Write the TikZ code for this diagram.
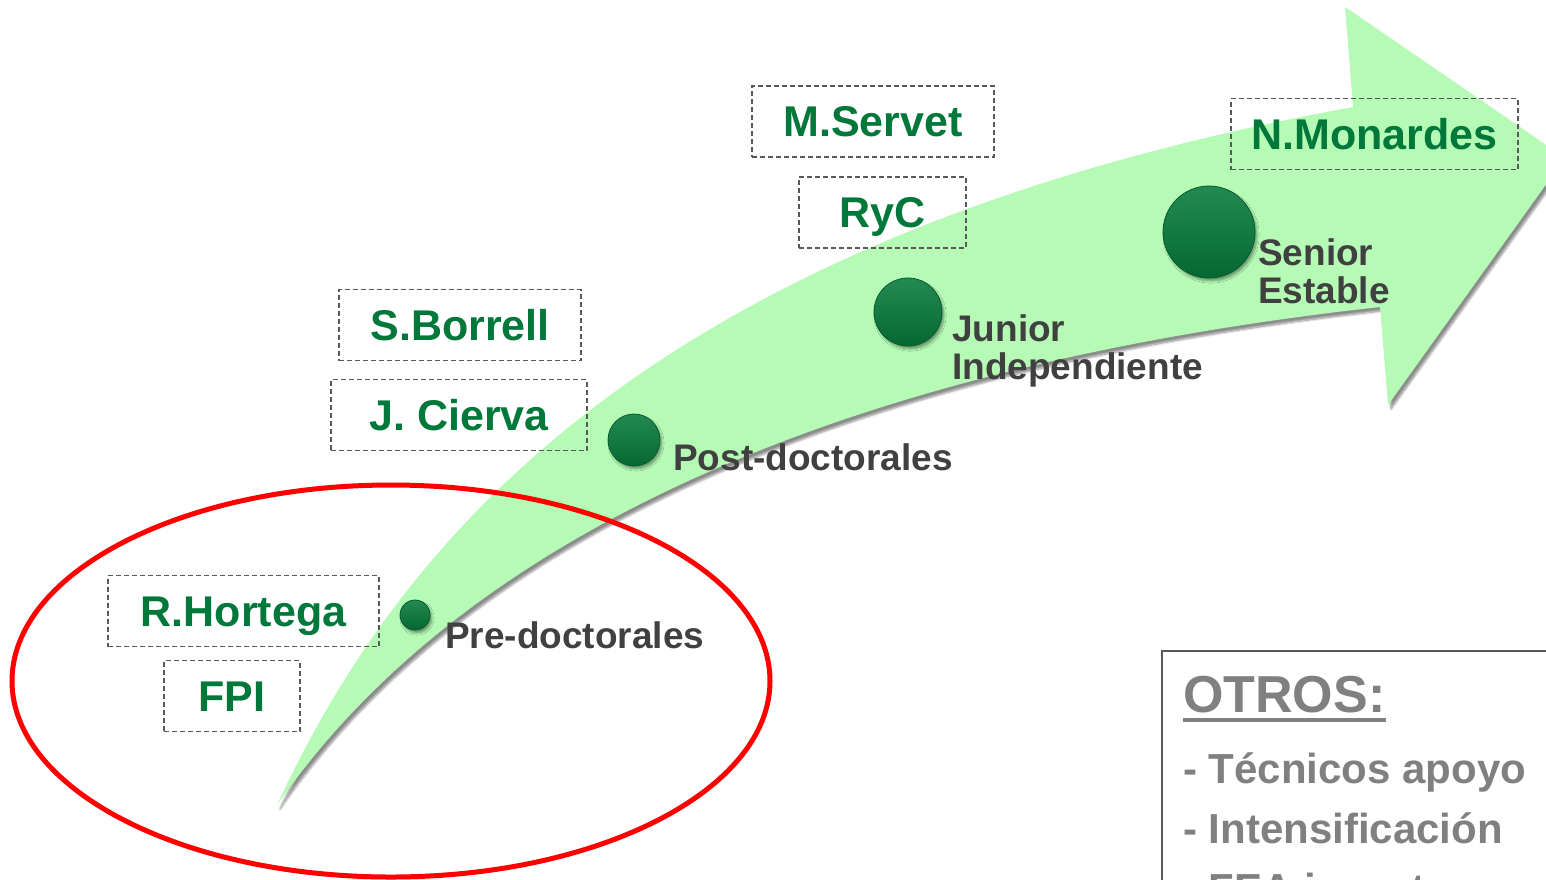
\documentclass[tikz,border=0pt]{standalone}
\usepackage{fontspec}
\setmainfont{Liberation Sans}
\usetikzlibrary{shadows.blur,shapes.geometric}

\definecolor{arrowgreen}{RGB}{181,251,181}
\definecolor{dotgreen}{RGB}{6,122,58}
\definecolor{fundgreen}{RGB}{0,120,58}
\definecolor{stagegray}{RGB}{64,64,64}
\definecolor{othergray}{RGB}{128,128,128}
\definecolor{framegray}{RGB}{88,88,88}

\tikzset{
	fund/.style={draw=framegray, dash pattern=on 5pt off 3pt, line width=1.5pt, text=fundgreen,
		font=\fontsize{43}{46}\selectfont\bfseries, inner sep=0pt, minimum height=71pt,
		text height=30pt, text depth=0pt},
	stage/.style={text=stagegray, font=\fontsize{37}{38}\selectfont\bfseries, inner sep=0pt, align=left},
	milestone/.style={circle, inner sep=0pt, draw=dotgreen!75!black, line width=0.8pt,
		top color=dotgreen!88!white, bottom color=dotgreen!85!black,
		blur shadow={shadow xshift=2pt, shadow yshift=-3pt, shadow blur steps=6}},
	other/.style={text=othergray, font=\fontsize{42}{44}\selectfont\bfseries, inner sep=0pt, anchor=base west}
}

\begin{document}
\begin{tikzpicture}[x=1pt, y=-1pt]
	\useasboundingbox (0,0) rectangle (1546,879);
	\clip (0,0) rectangle (1546,879);

	\fill[arrowgreen, blur shadow={shadow xshift=3pt, shadow yshift=-4pt, shadow blur steps=8, shadow opacity=45}]
		(277,805) .. controls (400,540) and (650,235) .. (1353,107)
		-- (1345,7) -- (1565,158) -- (1388,405) -- (1380,307)
		.. controls (880,362) and (477,517) .. (277,805)
		-- cycle;

	\node[draw=red, line width=5pt, ellipse, minimum width=758pt, minimum height=392pt] (predocarea) at (391,681) {};

	\node[milestone, minimum size=30pt] (predoc) at (415,615) {};
	\node[milestone, minimum size=52pt] (postdoc) at (634,440) {};
	\node[milestone, minimum size=68pt] (junior) at (908,312) {};
	\node[milestone, minimum size=92pt] (senior) at (1209,232) {};

	\node[stage, anchor=base west] (predoclabel) at (445,648) {Pre-doctorales};
	\node[stage, anchor=base west] (postdoclabel) at (673,470) {Post-doctorales};
	\node[stage, anchor=north west] (juniorlabel) at (952,314) {Junior\\Independiente};
	\node[stage, anchor=north west] (seniorlabel) at (1258,238) {Senior\\Estable};

	\node[fund, minimum width=271pt] (hortega) at (243.5,611) {R.Hortega};
	\node[fund, minimum width=136pt] (fpi) at (232,696) {FPI};
	\node[fund, minimum width=242pt] (borrell) at (460,325) {S.Borrell};
	\node[fund, minimum width=256pt] (cierva) at (459,415) {J. Cierva};
	\node[fund, minimum width=242pt] (servet) at (873,121.5) {M.Servet};
	\node[fund, minimum width=167pt] (ryc) at (882.5,212.5) {RyC};
	\node[fund, minimum width=287pt] (monardes) at (1374.5,134) {N.Monardes};

	\draw[framegray, line width=2pt] (1162,890) |- (1560,651);
	\node[other, font=\fontsize{52}{54}\selectfont\bfseries] (otros) at (1183,712) {OTROS:};
	\draw[othergray, line width=4.5pt] ([yshift=-8pt]otros.base west) -- ([yshift=-8pt]otros.base east);
	\node[other] (tecnicos) at (1183,783) {- Técnicos apoyo};
	\node[other] (intens) at (1183,843) {- Intensificación};
	\node[other] (fea) at (1183,903) {- FEA invest};
\end{tikzpicture}
\end{document}
